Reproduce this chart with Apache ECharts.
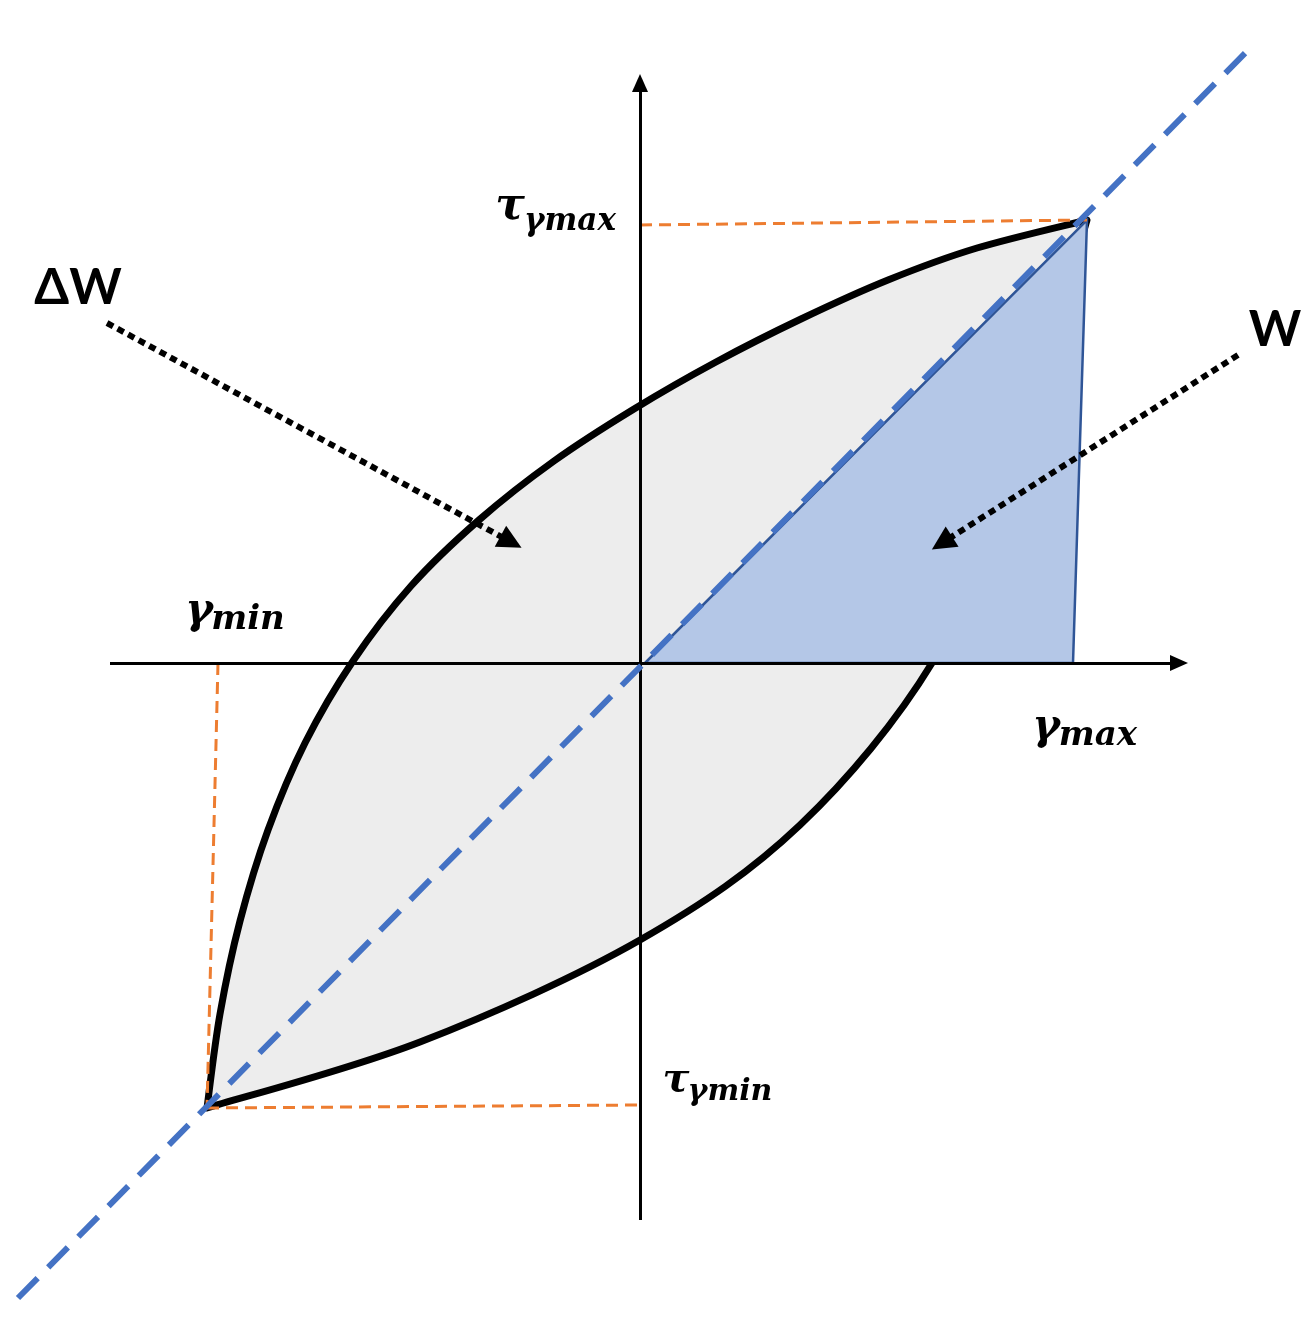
<!DOCTYPE html>
<html><head><meta charset="utf-8">
<script src="https://cdn.jsdelivr.net/npm/echarts@6/dist/echarts.min.js"></script>
<style>html,body{margin:0;padding:0;background:#fff}#c{width:1315px;height:1330px}</style>
</head><body><div id="c"></div>
<script>
// Data (strain γ on x, stress τ on y; origin at axis crossing)
const upperBranch = [[-433,-445],[-420,-351],[-400,-258],[-372,-167],[-335,-80],[-287,2],[-229,77],[-161,143],[-86,202],[-6,254],[76,301],[161,344],[248,383],[337,415],[447,443]];
const lowerBranch = [[-433,-445],[-220,-379],[0,-277],[160,-162],[292,0],[370,183],[447,443]];
const storedEnergy = [[5,0],[447,443],[433,0]];
const diagonal = [[-622,-635],[615,620]];
const tauMaxGuide = [[0,438],[447,443]];
const gammaMinGuide = [[-422,0],[-433,-445]];
const tauMinGuide = [[-433,-445],[0,-442]];
const xAxisLine = [[-530,0],[539,0]];
const yAxisLine = [[0,-557],[0,580]];
const arrowDW = [[-533,340],[-129,121]];
const arrowW = [[598,308],[302,120]];
const mathLabels = [
  {text:'τ', pos:[-130,455], size:44},
  {text:'γmax', pos:[-70,441], size:31},
  {text:'γ', pos:[-441,51], size:42},
  {text:'min', pos:[-392,43], size:34},
  {text:'γ', pos:[406,-65], size:42},
  {text:'max', pos:[458,-73], size:34},
  {text:'τ', pos:[36,-418], size:40},
  {text:'γmin', pos:[90,-429], size:30}
];
const textLabels = [
  {text:'ΔW', pos:[-562,375], size:50},
  {text:'W', pos:[635,333], size:50}
];

function curve(pts){
  let d='';
  for(let i=0;i<pts.length-1;i++){
    const p0=pts[i-1]||pts[i], p1=pts[i], p2=pts[i+1], p3=pts[i+2]||pts[i+1];
    const c1=[p1[0]+(p2[0]-p0[0])/6, p1[1]+(p2[1]-p0[1])/6];
    const c2=[p2[0]-(p3[0]-p1[0])/6, p2[1]-(p3[1]-p1[1])/6];
    d+=' C'+c1[0]+','+c1[1]+' '+c2[0]+','+c2[1]+' '+p2[0]+','+p2[1];
  }
  return d;
}

const chart = echarts.init(document.getElementById('c'), null, {renderer:'canvas'});
const labelData = mathLabels.map(l=>({value:l.pos, name:l.text, label:{color:'#000', opacity:1, fontSize:l.size, fontFamily:'DejaVu Serif', fontWeight:'bold', fontStyle:'italic'}}))
  .concat(textLabels.map(l=>({value:l.pos, name:l.text, label:{color:'#000', opacity:1, fontSize:l.size, fontFamily:'Lato', fontWeight:'bold'}})));

chart.setOption({
  animation:false,
  backgroundColor:'#fff',
  grid:{left:0,right:0,top:0,bottom:0},
  xAxis:{type:'value', min:-640, max:675, show:false},
  yAxis:{type:'value', min:-667, max:663, show:false},
  series:[
    {type:'custom', z:1, data:[0], silent:true,
      renderItem:function(params, api){
        const up=upperBranch.map(p=>api.coord(p));
        const lo=lowerBranch.map(p=>api.coord(p)).reverse();
        const d='M'+up[0][0]+','+up[0][1]+curve(up)+curve(lo)+' Z';
        return {type:'path', shape:{pathData:d}, style:{fill:'#ededed', stroke:'#000', lineWidth:7, lineJoin:'round'}};
      }},
    {type:'line', z:2, data:[], silent:true,
      markLine:{silent:true, symbol:['none','triangle'], symbolSize:[16,18], label:{show:false},
        lineStyle:{color:'#000', width:3, type:'solid'},
        data:[[{coord:xAxisLine[0]},{coord:xAxisLine[1]}],[{coord:yAxisLine[0]},{coord:yAxisLine[1]}]]}},
    {type:'custom', z:3, data:[0], silent:true,
      renderItem:function(params, api){
        return {type:'polygon', shape:{points:storedEnergy.map(p=>api.coord(p))}, style:{fill:'#b4c7e7', stroke:'#2f5597', lineWidth:2.5}};
      }},
    {type:'line', z:4, data:tauMaxGuide, symbol:'none', lineStyle:{color:'#ed7d31', width:3, type:[12,7]}},
    {type:'line', z:4, data:gammaMinGuide, symbol:'none', lineStyle:{color:'#ed7d31', width:3, type:[12,7]}},
    {type:'line', z:4, data:tauMinGuide, symbol:'none', lineStyle:{color:'#ed7d31', width:3, type:[12,7]}},
    {type:'line', z:5, data:diagonal, symbol:'none', lineStyle:{color:'#4472c4', width:6, type:[28,15]}},
    {type:'line', z:6, data:[], silent:true,
      markLine:{silent:true, symbol:['none','triangle'], symbolSize:[24,24], label:{show:false},
        lineStyle:{color:'#000', width:6, type:[7,5]},
        data:[[{coord:arrowDW[0]},{coord:arrowDW[1]}],[{coord:arrowW[0]},{coord:arrowW[1]}]]}},
    {type:'scatter', z:7, data:labelData, symbolSize:1, itemStyle:{color:'rgba(0,0,0,0)', opacity:1}, silent:true,
      label:{show:true, position:'inside', color:'#000', formatter:'{b}', align:'center', verticalAlign:'middle'}}
  ]
});
</script></body></html>
